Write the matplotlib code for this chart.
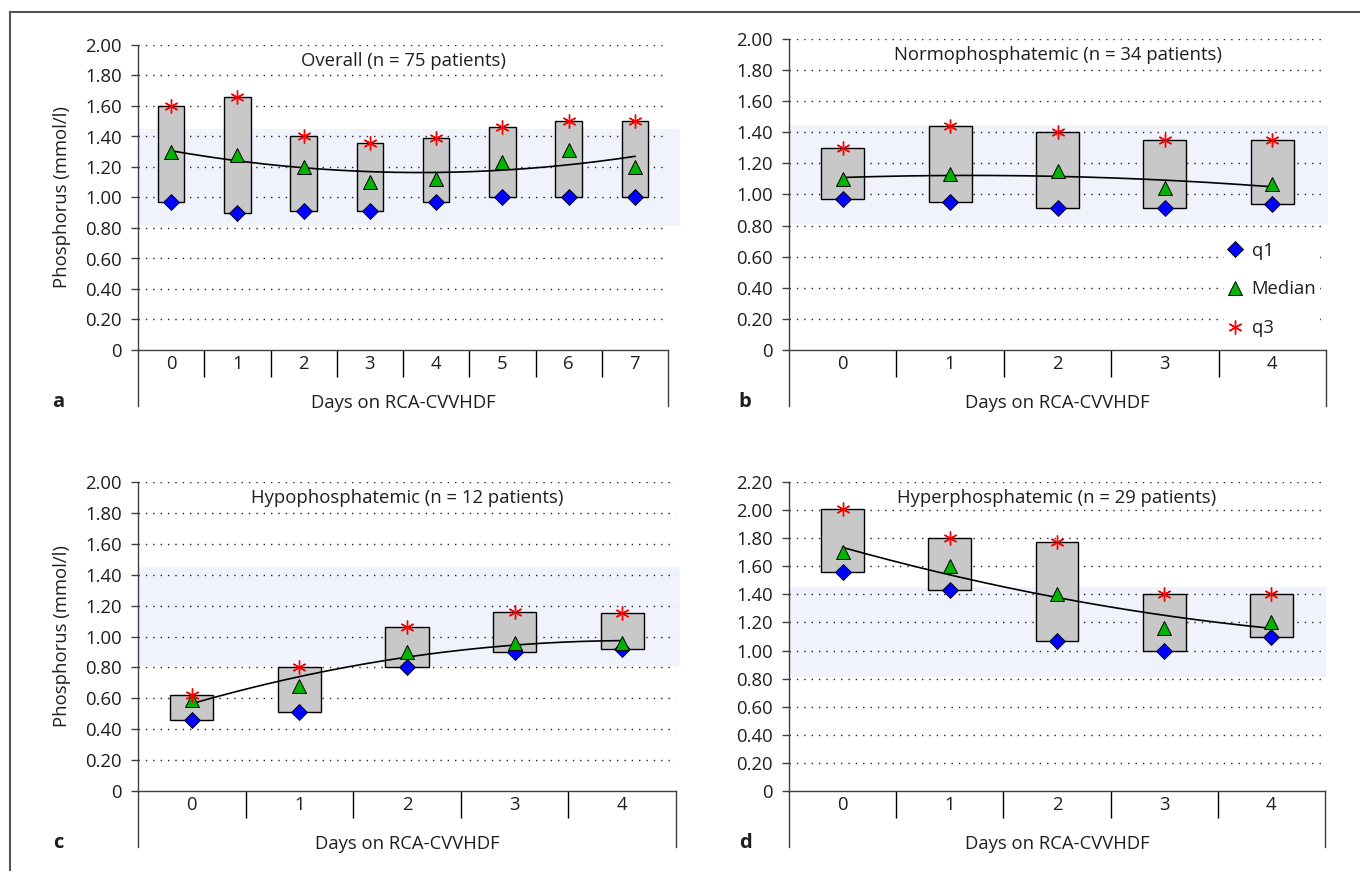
import numpy as np
import matplotlib
matplotlib.use('Agg')
import matplotlib.pyplot as plt
from matplotlib.lines import Line2D

plt.rcParams['font.family'] = ['Open Sans', 'DejaVu Sans']
plt.rcParams['lines.scale_dashes'] = False

# ---------------- data ----------------
days_a = [0, 1, 2, 3, 4, 5, 6, 7]
q1_a = [0.97, 0.90, 0.91, 0.91, 0.97, 1.00, 1.00, 1.00]
med_a = [1.30, 1.28, 1.20, 1.10, 1.12, 1.23, 1.31, 1.20]
q3_a = [1.60, 1.66, 1.40, 1.36, 1.39, 1.46, 1.50, 1.50]

days_b = [0, 1, 2, 3, 4]
q1_b = [0.97, 0.95, 0.91, 0.91, 0.94]
med_b = [1.10, 1.13, 1.15, 1.04, 1.07]
q3_b = [1.30, 1.44, 1.40, 1.35, 1.35]

days_c = [0, 1, 2, 3, 4]
q1_c = [0.46, 0.51, 0.80, 0.90, 0.92]
med_c = [0.59, 0.68, 0.90, 0.96, 0.96]
q3_c = [0.62, 0.80, 1.06, 1.16, 1.15]

days_d = [0, 1, 2, 3, 4]
q1_d = [1.56, 1.43, 1.07, 1.00, 1.10]
med_d = [1.70, 1.60, 1.40, 1.16, 1.20]
q3_d = [2.01, 1.80, 1.77, 1.40, 1.40]

titles = ['Overall (n = 75 patients)', 'Normophosphatemic (n = 34 patients)',
          'Hypophosphatemic (n = 12 patients)', 'Hyperphosphatemic (n = 29 patients)']
letters = ['a', 'b', 'c', 'd']
xlabel = 'Days on RCA-CVVHDF'
ylabel = 'Phosphorus (mmol/l)'
legend_labels = ['q1', 'Median', 'q3']
normal_low, normal_high = 0.81, 1.45

# ---------------- figure ----------------
W, H = 1360, 871
fig = plt.figure(figsize=(W / 100, H / 100), dpi=100)
FS = 13.3
TXT = '#1e1e1e'

# outer frame (top and left)
fig.add_artist(Line2D([10 / W, 1], [1 - 12 / H, 1 - 12 / H], color='#555555', lw=1.5))
fig.add_artist(Line2D([10 / W, 10 / W], [0, 1 - 12 / H], color='#555555', lw=1.5))

panels = [
    dict(rect=(138, 668, 45, 350), days=days_a, q1=q1_a, med=med_a, q3=q3_a, ymax=2.0, ylab=True, band_right=680),
    dict(rect=(789, 1326, 39, 350), days=days_b, q1=q1_b, med=med_b, q3=q3_b, ymax=2.0, ylab=False, band_right=1328),
    dict(rect=(138, 676, 482, 791), days=days_c, q1=q1_c, med=med_c, q3=q3_c, ymax=2.0, ylab=True, band_right=680),
    dict(rect=(789, 1325, 482, 791), days=days_d, q1=q1_d, med=med_d, q3=q3_d, ymax=2.2, ylab=False, band_right=1326),
]

for i, p in enumerate(panels):
    x0, x1, yt, yb = p['rect']
    wpx, hpx = x1 - x0, yb - yt
    ax = fig.add_axes([x0 / W, 1 - yb / H, wpx / W, hpx / H])
    days = np.array(p['days'])
    q1 = np.array(p['q1']); med = np.array(p['med']); q3 = np.array(p['q3'])
    n = len(days)
    ax.set_xlim(-0.5, n - 0.5)
    ax.set_ylim(0, p['ymax'])

    # normal range band
    band = ax.axhspan(normal_low, normal_high, xmin=0, xmax=(p['band_right'] - x0) / wpx,
                      color='#f1f3fc', lw=0, zorder=0)
    band.set_clip_on(False)

    yt_vals = np.round(np.arange(0, p['ymax'] + 1e-6, 0.2), 2)
    for v in yt_vals[1:]:
        ax.axhline(v, color='#222222', lw=1.0, dashes=(1.0, 4.3), zorder=1)

    ax.bar(days, q3 - q1, bottom=q1, width=0.4, color='#c8c8c8',
           edgecolor='black', linewidth=1.0, zorder=2)

    coef = np.polyfit(days, med, 2)
    xs = np.linspace(days[0], days[-1], 200)
    ax.plot(xs, np.polyval(coef, xs), color='black', lw=1.2, zorder=3)

    h1, = ax.plot(days, q1, ls='none', marker='D', ms=8, mfc='#0000ff', mec='black',
                  mew=0.6, zorder=4, label=legend_labels[0])
    h2, = ax.plot(days, med, ls='none', marker='^', ms=9.5, mfc='#00b400', mec='black',
                  mew=0.7, zorder=4, label=legend_labels[1])
    h3, = ax.plot(days, q3, ls='none', marker=(6, 2, 0), ms=10, color='#ff0000',
                  mew=1.0, zorder=4, label=legend_labels[2])

    # spines
    for s in ['top', 'right']:
        ax.spines[s].set_visible(False)
    for s in ['left', 'bottom']:
        ax.spines[s].set_color('#404040')
        ax.spines[s].set_linewidth(1.0)

    ax.set_yticks(yt_vals)
    ax.set_yticklabels(['0' if v == 0 else f'{v:.2f}' for v in yt_vals])
    ax.tick_params(axis='y', length=4.8, width=1, pad=6.7, labelsize=FS,
                   labelcolor=TXT, color='#404040')

    ax.set_xticks(days)
    ax.set_xticklabels([str(d) for d in days])
    ax.tick_params(axis='x', which='major', length=0, pad=3.5, labelsize=FS, labelcolor=TXT)
    ax.set_xticks(np.arange(0.5, n - 1, 1.0), minor=True)
    ax.tick_params(axis='x', which='minor', length=27 * 0.72, width=1, direction='out', color='black')

    ext = 56 / hpx
    ax.plot([0, 0], [0, -ext], transform=ax.transAxes, clip_on=False, color='#404040', lw=1.0)
    ax.plot([1, 1], [0, -ext], transform=ax.transAxes, clip_on=False, color='#404040', lw=1.0)

    ax.text(0.5, -53 / hpx, xlabel, transform=ax.transAxes, ha='center', va='center',
            fontsize=FS, color=TXT)
    ax.text(0.5, 1 - 16 / hpx, titles[i], transform=ax.transAxes, ha='center', va='center',
            fontsize=FS, color=TXT)
    if p['ylab']:
        ax.text((62 - x0) / wpx, 0.5, ylabel, transform=ax.transAxes, rotation=90,
                ha='center', va='center', fontsize=FS, color=TXT)
    letter_x = 58 if x0 < 500 else 745
    ax.text((letter_x - x0) / wpx, -52 / hpx, letters[i],
            transform=ax.transAxes, ha='center', va='center', fontsize=14.5,
            fontweight='bold', color=TXT)

    if i == 1:
        leg = ax.legend(handles=[h1, h2, h3], loc='upper left',
                        bbox_to_anchor=((1224 - x0) / wpx, (350 - 238) / hpx),
                        bbox_transform=ax.transAxes, borderaxespad=0, frameon=True,
                        fancybox=False, facecolor='white', edgecolor='none', framealpha=1,
                        fontsize=FS, labelspacing=1.12, handlelength=0.8,
                        handletextpad=0.5, borderpad=0.2)
        leg.set_zorder(5)
        for t in leg.get_texts():
            t.set_color(TXT)

fig.savefig('out.png', dpi=100)
